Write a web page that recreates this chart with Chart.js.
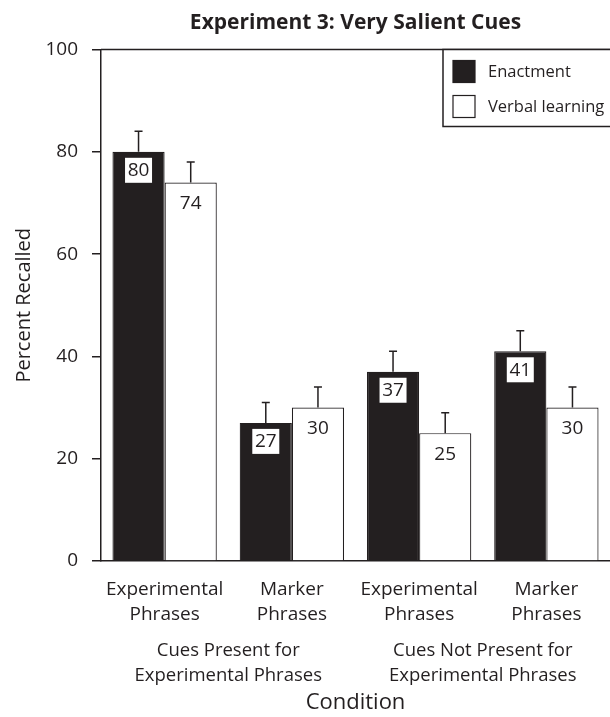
<!DOCTYPE html>
<html>
<head>
<meta charset="utf-8">
<script src="https://cdn.jsdelivr.net/npm/chart.js@4"></script>
<style>
  html, body { margin: 0; padding: 0; background: #fff; }
  #wrap { width: 610px; height: 717px; }
</style>
</head>
<body>
<div id="wrap"><canvas id="recallChart"></canvas></div>
<script>
// Data
const chartTitle = 'Experiment 3: Very Salient Cues';
const conditions = [['Experimental', 'Phrases'], ['Marker', 'Phrases'], ['Experimental', 'Phrases'], ['Marker', 'Phrases']];
const cueGroups = [['Cues Present for', 'Experimental Phrases'], ['Cues Not Present for', 'Experimental Phrases']];
const seriesNames = ['Enactment', 'Verbal learning'];
const enactment = [80, 27, 37, 41];
const verbal = [74, 30, 25, 30];
const enactmentErr = [4, 4, 4, 4];
const verbalErr = [4, 4, 4, 4];
const yTicks = [0, 20, 40, 60, 80, 100];

const ink = '#231f20';
const fontFam = '"Open Sans", "Noto Sans", sans-serif';

// error bars (upper only) + value labels
const barExtras = {
    id: 'barExtras',
    afterDatasetsDraw(chart) {
        const ctx = chart.ctx;
        const y = chart.scales.y;
        const errs = [enactmentErr, verbalErr];
        ctx.save();
        chart.data.datasets.forEach((ds, di) => {
            const meta = chart.getDatasetMeta(di);
            meta.data.forEach((bar, i) => {
                const top = y.getPixelForValue(ds.data[i] + errs[di][i]);
                ctx.strokeStyle = ink;
                ctx.lineWidth = 1.5;
                ctx.beginPath();
                ctx.moveTo(bar.x, bar.y);
                ctx.lineTo(bar.x, top);
                ctx.moveTo(bar.x - 4, top);
                ctx.lineTo(bar.x + 4, top);
                ctx.stroke();

                ctx.font = '19px ' + fontFam;
                ctx.textAlign = 'center';
                ctx.textBaseline = 'middle';
                if (di === 0) {
                    ctx.fillStyle = '#fff';
                    ctx.fillRect(bar.x - 13.5, bar.y + 6, 27, 25);
                    ctx.fillStyle = ink;
                    ctx.fillText(String(ds.data[i]), bar.x, bar.y + 19);
                } else {
                    ctx.fillStyle = ink;
                    ctx.fillText(String(ds.data[i]), bar.x, bar.y + 21);
                }
            });
        });
        ctx.restore();
    }
};

// title centred over the plot, top frame line, boxed legend
const frameLegend = {
    id: 'frameLegend',
    afterDraw(chart) {
        const ctx = chart.ctx;
        const a = chart.chartArea;
        ctx.save();
        ctx.fillStyle = ink;
        ctx.font = 'bold 21px ' + fontFam;
        ctx.textAlign = 'center';
        ctx.textBaseline = 'middle';
        ctx.fillText(chartTitle, (a.left + a.right) / 2, 23.5);

        ctx.strokeStyle = ink;
        ctx.lineWidth = 1.5;
        ctx.beginPath();
        ctx.moveTo(a.left, a.top);
        ctx.lineTo(a.right, a.top);
        ctx.stroke();

        const bx = a.right - 167, by = a.top, bw = 168, bh = 77;
        ctx.fillStyle = '#fff';
        ctx.fillRect(bx, by, bw, bh);
        ctx.strokeRect(bx, by, bw, bh);

        const fills = [ink, '#fff'];
        ctx.font = '16.5px ' + fontFam;
        ctx.textAlign = 'left';
        seriesNames.forEach((name, i) => {
            const sy = by + 11 + i * 35;
            ctx.fillStyle = fills[i];
            ctx.fillRect(bx + 10, sy, 22, 22);
            ctx.lineWidth = 1.2;
            ctx.strokeRect(bx + 10, sy, 22, 22);
            ctx.fillStyle = ink;
            ctx.fillText(name, bx + 45, sy + 12);
        });
        ctx.restore();
    }
};

const config = {
    type: 'bar',
    data: {
        labels: conditions,
        datasets: [
            {
                label: seriesNames[0],
                data: enactment,
                backgroundColor: ink,
                borderColor: ink,
                borderWidth: 1.2,
                categoryPercentage: 0.82,
                barPercentage: 1.0
            },
            {
                label: seriesNames[1],
                data: verbal,
                backgroundColor: '#fff',
                borderColor: ink,
                borderWidth: 1.2,
                categoryPercentage: 0.82,
                barPercentage: 1.0
            }
        ]
    },
    options: {
        responsive: true,
        maintainAspectRatio: false,
        animation: false,
        layout: { padding: { left: 0, right: 0, top: 49.5, bottom: 0 } },
        plugins: {
            legend: { display: false },
            tooltip: { enabled: false },
            title: { display: false }
        },
        scales: {
            x: {
                grid: { display: false, drawTicks: false },
                border: { display: true, color: ink, width: 1.5 },
                ticks: {
                    color: ink,
                    padding: 16,
                    maxRotation: 0,
                    autoSkip: false,
                    font: { family: fontFam, size: 19, lineHeight: 1.316 }
                },
                afterFit: s => { s.height = 72; }
            },
            x2: {
                type: 'category',
                position: 'bottom',
                labels: cueGroups,
                offset: true,
                weight: 1,
                grid: { display: false, drawTicks: false },
                border: { display: false },
                ticks: {
                    color: ink,
                    padding: 6,
                    maxRotation: 0,
                    autoSkip: false,
                    font: { family: fontFam, size: 18.5, lineHeight: 1.32 }
                },
                title: {
                    display: true,
                    text: 'Condition',
                    color: ink,
                    font: { family: fontFam, size: 22, lineHeight: 1.2 },
                    padding: { top: 4, bottom: 1 }
                },
                afterFit: s => { s.height = 84; }
            },
            y: {
                min: 0,
                max: 100,
                afterBuildTicks: s => { s.ticks = yTicks.map(v => ({ value: v })); },
                grid: { drawOnChartArea: false, drawTicks: true, tickLength: 9, color: ink, lineWidth: 1.5 },
                border: { display: true, color: ink, width: 1.5 },
                ticks: {
                    color: ink,
                    padding: 14,
                    font: { family: fontFam, size: 19 }
                },
                title: {
                    display: true,
                    text: 'Percent Recalled',
                    color: ink,
                    font: { family: fontFam, size: 20, lineHeight: 1.2 },
                    padding: { top: 12, bottom: 0 }
                },
                afterFit: s => { s.width = 101; }
            }
        }
    },
    plugins: [barExtras, frameLegend]
};

new Chart(document.getElementById('recallChart'), config);
</script>
</body>
</html>
